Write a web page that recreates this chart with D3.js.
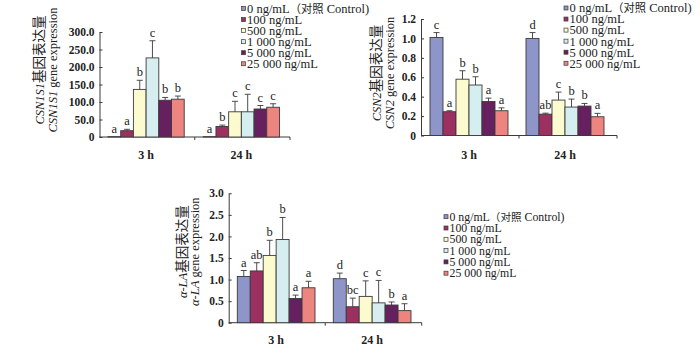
<!DOCTYPE html>
<html><head><meta charset="utf-8">
<script src="https://cdn.jsdelivr.net/npm/d3@7"></script>
<style>
body{margin:0;background:#fff;}
svg{display:block;}
text{font-family:"Liberation Serif","Times New Roman","Noto Sans CJK SC",serif;fill:#222;}
</style>
</head><body>
<svg id="c" width="700" height="355"></svg>
<script>
// ---------- data ----------
const groups = ["3 h", "24 h"];
const series = ["0 ng/mL（对照 Control)", "100 ng/mL", "500 ng/mL", "1 000 ng/mL", "5 000 ng/mL", "25 000 ng/mL"];

const csn1s1Mean3h  = [1, 18, 136, 226, 105, 108];
const csn1s1Err3h   = [0, 4, 26, 49, 8, 9];
const csn1s1Sig3h   = ["a", "a", "b", "c", "b", "b"];
const csn1s1Mean24h = [1, 30, 72, 72, 80, 85];
const csn1s1Err24h  = [0, 4, 30, 50, 10, 10];
const csn1s1Sig24h  = ["a", "b", "c", "c", "c", "c"];
const csn1s1Ticks   = [0, 50, 100, 150, 200, 250, 300];

const csn2Mean3h  = [1.01, 0.245, 0.58, 0.52, 0.35, 0.255];
const csn2Err3h   = [0.05, 0.01, 0.087, 0.085, 0.035, 0.03];
const csn2Sig3h   = ["c", "a", "b", "b", "a", "a"];
const csn2Mean24h = [1.0, 0.22, 0.365, 0.293, 0.303, 0.193];
const csn2Err24h  = [0.06, 0.01, 0.082, 0.082, 0.027, 0.035];
const csn2Sig24h  = ["d", "ab", "c", "b", "b", "a"];
const csn2Ticks   = [0, 0.2, 0.4, 0.6, 0.8, 1.0, 1.2];

const laMean3h  = [1.07, 1.20, 1.56, 1.93, 0.56, 0.81];
const laErr3h   = [0.14, 0.19, 0.35, 0.51, 0.08, 0.15];
const laSig3h   = ["a", "ab", "b", "b", "a", "a"];
const laMean24h = [1.02, 0.37, 0.61, 0.46, 0.41, 0.28];
const laErr24h  = [0.13, 0.20, 0.36, 0.52, 0.07, 0.16];
const laSig24h  = ["d", "bc", "c", "c", "b", "a"];
const laTicks   = [0, 0.5, 1.0, 1.5, 2.0, 2.5, 3.0];

// ---------- styles ----------
const colors = ["#8e95c9", "#9c3061", "#fbfbcf", "#d7eef0", "#661f5f", "#ee847f"];
const ink = "#3a3a3a";

const svg = d3.select("#c");

const charts = [
  {
    gene: "CSN1S1",
    means: [csn1s1Mean3h, csn1s1Mean24h], errs: [csn1s1Err3h, csn1s1Err24h], sigs: [csn1s1Sig3h, csn1s1Sig24h],
    ticks: csn1s1Ticks,
    x0: 99.5, x1: 290, offsets: [8.5, 8.5], barW: 12.7,
    yBase: 137, yTop: 32,
    titleX: [39.5, 52.5], titleY: 70,
    xLabelY: 155,
    legend: {x: 241.5, y: 8.5, dy: 11.05, size: 12.5}
  },
  {
    gene: "CSN2",
    means: [csn2Mean3h, csn2Mean24h], errs: [csn2Err3h, csn2Err24h], sigs: [csn2Sig3h, csn2Sig24h],
    ticks: csn2Ticks,
    x0: 421, x1: 617, offsets: [9, 7], barW: 13,
    yBase: 135.5, yTop: 19,
    titleX: [377, 389.5], titleY: 73,
    xLabelY: 155,
    legend: {x: 564, y: 8, dy: 11.05, size: 12.5}
  },
  {
    gene: "α-LA",
    means: [laMean3h, laMean24h], errs: [laErr3h, laErr24h], sigs: [laSig3h, laSig24h],
    ticks: laTicks,
    x0: 228.7, x1: 421.7, offsets: [8.6, 8.1], barW: 12.95,
    yBase: 322.7, yTop: 193.3,
    titleX: [182.3, 194.3], titleY: 251.7,
    xLabelY: 340,
    legend: {x: 444, y: 216.7, dy: 11.3, size: 11.8}
  }
];

function fmt(v) { return v === 0 ? "0" : d3.format(".1f")(v); }

charts.forEach(cfg => {
  const g = svg.append("g");
  const x = d3.scaleBand().domain(groups).range([cfg.x0, cfg.x1]).paddingInner(0).paddingOuter(0);
  const xs = d3.scaleBand().domain(series).range([0, cfg.barW * series.length]);
  const yMax = cfg.ticks[cfg.ticks.length - 1];
  const y = d3.scaleLinear().domain([0, yMax]).range([cfg.yBase, cfg.yTop]);

  // y axis
  const ya = g.append("g").attr("transform", `translate(${cfg.x0},0)`)
    .call(d3.axisLeft(y).tickValues(cfg.ticks).tickFormat(fmt).tickSizeInner(-3).tickSizeOuter(0).tickPadding(5));
  ya.select(".domain").attr("stroke", ink);
  ya.selectAll(".tick line").attr("stroke", ink);
  ya.selectAll(".tick text").attr("font-family", "Liberation Serif, serif").attr("font-size", 11.5)
    .attr("font-weight", "bold").attr("fill", "#222");

  // x axis line + boundary ticks
  g.append("line").attr("x1", cfg.x0).attr("x2", cfg.x1).attr("y1", cfg.yBase).attr("y2", cfg.yBase)
    .attr("stroke", ink).attr("stroke-width", 1);
  [x(groups[1]), x.range()[1]].forEach(tx => {
    g.append("line").attr("x1", tx).attr("x2", tx).attr("y1", cfg.yBase).attr("y2", cfg.yBase + 3)
      .attr("stroke", ink).attr("stroke-width", 1);
  });

  groups.forEach((gr, gi) => {
    const gx = x(gr) + cfg.offsets[gi];
    series.forEach((s, si) => {
      const m = cfg.means[gi][si], e = cfg.errs[gi][si];
      const bx = gx + xs(s), bw = xs.bandwidth(), cx = bx + bw / 2;
      g.append("rect").attr("x", bx).attr("y", y(m)).attr("width", bw).attr("height", y(0) - y(m))
        .attr("fill", colors[si]).attr("stroke", ink).attr("stroke-width", 0.9);
      if (e > 0) {
        g.append("line").attr("x1", cx).attr("x2", cx).attr("y1", y(m)).attr("y2", y(m + e))
          .attr("stroke", ink).attr("stroke-width", 0.9);
        g.append("line").attr("x1", cx - 3).attr("x2", cx + 3).attr("y1", y(m + e)).attr("y2", y(m + e))
          .attr("stroke", ink).attr("stroke-width", 0.9);
      }
      g.append("text").attr("x", cx).attr("y", y(m + e) - 4).attr("text-anchor", "middle")
        .attr("font-size", 12.5).text(cfg.sigs[gi][si]);
    });
    g.append("text").attr("x", gx + xs.range()[1] / 2).attr("y", cfg.xLabelY).attr("dy", "0.35em")
      .attr("text-anchor", "middle").attr("font-size", 12).attr("font-weight", "bold").text(gr);
  });

  // y titles
  const t1 = g.append("text").attr("transform", `translate(${cfg.titleX[0]},${cfg.titleY}) rotate(-90)`)
    .attr("text-anchor", "middle").attr("dy", "0.35em").attr("font-size", 12.5);
  t1.append("tspan").attr("font-style", "italic").text(cfg.gene);
  t1.append("tspan").attr("font-family", "Noto Sans CJK SC, sans-serif").attr("font-size", 13.5).text("基因表达量");
  const t2 = g.append("text").attr("transform", `translate(${cfg.titleX[1]},${cfg.titleY}) rotate(-90)`)
    .attr("text-anchor", "middle").attr("dy", "0.35em").attr("font-size", 12.5);
  t2.append("tspan").attr("font-style", "italic").text(cfg.gene);
  t2.append("tspan").text(" gene expression");

  // legend
  const L = cfg.legend;
  series.forEach((s, si) => {
    const ly = L.y + si * L.dy;
    g.append("rect").attr("x", L.x).attr("y", ly - 2).attr("width", 4).attr("height", 4)
      .attr("fill", colors[si]).attr("stroke", ink).attr("stroke-width", 0.7);
    const t = g.append("text").attr("x", L.x + 5.5).attr("y", ly).attr("dy", "0.35em").attr("font-size", L.size);
    if (si === 0) {
      t.append("tspan").text("0 ng/mL");
      t.append("tspan").attr("font-family", "Noto Sans CJK SC, sans-serif").attr("font-size", L.size - 1.2).text("（对照");
      t.append("tspan").text(" Control)");
    } else {
      t.text(s);
    }
  });
});
</script>
</body></html>
